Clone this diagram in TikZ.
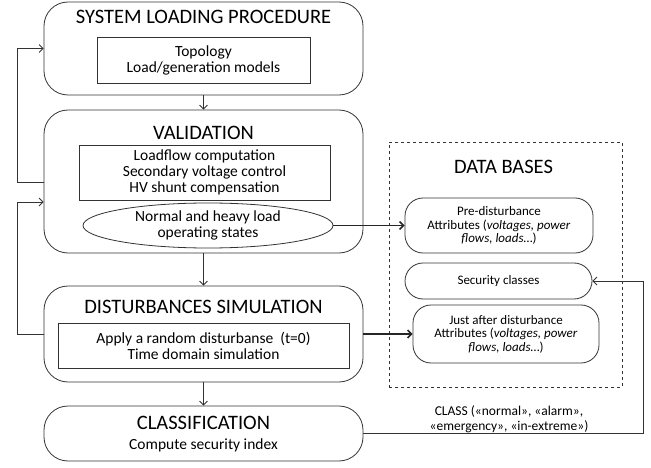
\documentclass[tikz,border=0pt]{standalone}
\usepackage{fontspec}
\setmainfont{Carlito}
\usetikzlibrary{arrows.meta,shapes.geometric}
\tikzset{
  x=1pt,y=-1pt,
  ln/.style={draw=black!80,line width=0.8pt},
  bigbox/.style={ln,rounded corners=24pt,inner sep=0pt},
  inbox/.style={ln,inner sep=0pt,align=center,font=\fontsize{15.5}{16}\selectfont},
  ttl/.style={font=\fontsize{20.5}{22}\selectfont},
  dbbox/.style={ln,rounded corners=18pt,inner sep=0pt,align=center,font=\fontsize{13}{13.5}\selectfont},
  arr/.style={ln,-{Straight Barb[length=4pt,width=8pt]}},
  tarr/.style={draw=black!85,line width=1.5pt,-{Straight Barb[length=4pt,width=8pt]}},
}
\begin{document}
\begin{tikzpicture}
\useasboundingbox (0,0) rectangle (651,468);
% main column
\node[bigbox,minimum width=319pt,minimum height=93pt] (slp) at (203.5,48.5) {};
\node[ttl] (slpt) at (203.5,17) {SYSTEM LOADING PROCEDURE};
\node[inbox,minimum width=213pt,minimum height=46pt] (in1) at (203.5,60) {Topology\\Load/generation models};

\node[bigbox,minimum width=319pt,minimum height=143pt] (val) at (203.5,181.5) {};
\node[ttl] (valt) at (203.5,133) {VALIDATION};
\node[inbox,minimum width=251pt,minimum height=55pt] (in2) at (204.5,172.5) {Loadflow computation\\Secondary voltage control\\HV shunt compensation};
\node[ellipse,inbox,minimum width=250pt,minimum height=45pt] (ell) at (208,225.5) {Normal and heavy load\\operating states};

\node[bigbox,minimum width=319pt,minimum height=96pt] (dist) at (203.5,334) {};
\node[ttl] (distt) at (203.5,307) {DISTURBANCES SIMULATION};
\node[inbox,minimum width=291pt,minimum height=45pt] (in3) at (203.5,345.5) {Apply a random disturbanse~~(t=0)\\Time domain simulation};

\node[bigbox,minimum width=319pt,minimum height=55pt] (cls) at (203.5,433.5) {};
\node[ttl] (clst) at (203.5,423) {CLASSIFICATION};
\node[font=\fontsize{15.5}{16}\selectfont] (clss) at (203.5,445) {Compute security index};

% data bases
\node[draw=black!80,line width=0.8pt,dashed,minimum width=233pt,minimum height=245pt,inner sep=0pt] (db) at (505.5,264.5) {};
\node[font=\fontsize{20.5}{22}\selectfont] (dbt) at (503.5,167) {DATA BASES};
\node[dbbox,minimum width=188pt,minimum height=55pt] (pre) at (499,225.5) {Pre-disturbance\\Attributes (\textit{voltages, power}\\\textit{flows, loads}\dots)};
\node[dbbox,minimum width=187pt,minimum height=36pt] (sec) at (498.5,281) {Security classes};
\node[dbbox,minimum width=186pt,minimum height=58pt] (just) at (506,334) {Just after disturbance\\Attributes (\textit{voltages, power}\\\textit{flows, loads}\dots)};

% flow arrows
\draw[arr] (slp.south) -- (val.north);
\draw[arr] (val.south) -- (dist.north);
\draw[arr] (dist.south) -- (cls.north);
\draw[tarr] (ell.east) -- (pre.west);
\draw[tarr] (dist.east |- just.west) -- (just.west);

% feedback loops
\coordinate (l1) at (17,182);
\coordinate (l2) at (17,48.5);
\draw[arr] (val.west |- l1) -- (l1) -- (l2) -- (slp.west);
\coordinate (l3) at (17,334);
\coordinate (l4) at (17,202);
\draw[arr] (dist.west) -- (l3) -- (l4) -- (val.west |- l4);

% class line
\coordinate (c1) at (643,433.5);
\draw[arr] (cls.east) -- (c1) -- (c1 |- sec.east) -- (sec.east);
\node[align=center,font=\fontsize{13.5}{15}\selectfont] (clab) at (509,419.5) {CLASS («normal», «alarm»,\\«emergency», «in-extreme»)};
\end{tikzpicture}
\end{document}
